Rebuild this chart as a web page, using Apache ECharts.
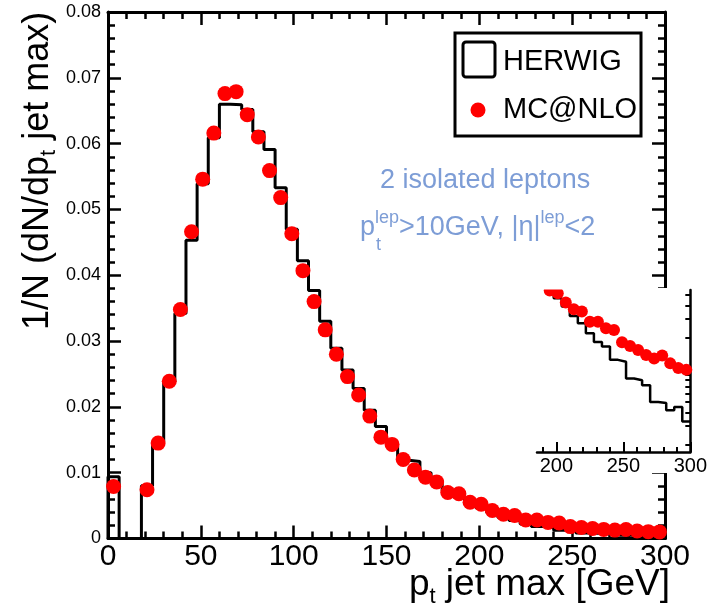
<!DOCTYPE html>
<html>
<head>
<meta charset="utf-8">
<script src="https://cdn.jsdelivr.net/npm/echarts@6/dist/echarts.min.js"></script>
<style>
  html, body { margin: 0; padding: 0; background: #fff; }
  #chart { width: 710px; height: 615px; }
</style>
</head>
<body>
<div id="chart"></div>
<script>
// Leading-jet pT spectrum, 6 GeV bins from 0 to 300 GeV
const binLow = [0, 6, 12, 18, 24, 30, 36, 42, 48, 54, 60, 66, 72, 78, 84, 90, 96, 102, 108, 114,
  120, 126, 132, 138, 144, 150, 156, 162, 168, 174, 180, 186, 192, 198, 204, 210, 216, 222, 228, 234,
  240, 246, 252, 258, 264, 270, 276, 282, 288, 294];
const binUpperEdge = 300;
const binCentre = [3, 9, 15, 21, 27, 33, 39, 45, 51, 57, 63, 69, 75, 81, 87, 93, 99, 105, 111, 117,
  123, 129, 135, 141, 147, 153, 159, 165, 171, 177, 183, 189, 195, 201, 207, 213, 219, 225, 231, 237,
  243, 249, 255, 261, 267, 273, 279, 285, 291, 297];

// HERWIG histogram (1/N dN/dpT per bin)
const herwig = [0.0094, 0, 0, 0.0080, 0.0147, 0.0238, 0.0342, 0.0453, 0.0539, 0.0609,
  0.0660, 0.0659, 0.0652, 0.0618, 0.0591, 0.0533, 0.0470, 0.0422, 0.0377, 0.0330,
  0.0289, 0.0256, 0.0228, 0.0195, 0.0170, 0.0140, 0.0119, 0.0117, 0.0100, 0.0088,
  0.0073, 0.0063, 0.0055, 0.00467, 0.00390, 0.00319, 0.00273, 0.00220, 0.00182, 0.00165,
  0.00124, 0.00119, 0.00083, 0.00080, 0.00072, 0.00050, 0.00049, 0.00042, 0.00045, 0.00033];

// MC@NLO points at bin centres (no entries in the two empty bins)
const mcnlo = [0.0079, null, null, 0.0074, 0.0145, 0.0239, 0.0348, 0.0466, 0.0546, 0.0616,
  0.0676, 0.0679, 0.0644, 0.0610, 0.0559, 0.0518, 0.0463, 0.0407, 0.0360, 0.0317,
  0.0280, 0.0246, 0.0218, 0.0186, 0.0154, 0.0143, 0.0120, 0.0104, 0.0093, 0.0086,
  0.0070, 0.0068, 0.0055, 0.0052, 0.00425, 0.00369, 0.00350, 0.00282, 0.00282, 0.00245,
  0.00236, 0.00181, 0.00167, 0.00153, 0.00138, 0.00128, 0.00136, 0.00115, 0.00104, 0.00100];

// axis ticks
const mainXTicks = { min: 0, max: 300, step: 50 };
const mainYTicks = { min: 0, max: 0.08, step: 0.01 };
const insetXRange = [185.5, 300];
const insetXMajor = [200, 250, 300];
const insetXMinor = [190, 210, 220, 230, 240, 260, 270, 280, 290];
const insetYRange = [0.000171, 0.00557];
const insetYMajor = [0.001];
const insetYMinor = [0.0002, 0.0003, 0.0004, 0.0005, 0.0006, 0.0007, 0.0008, 0.0009,
  0.002, 0.003, 0.004, 0.005];

const FONT = 'Liberation Sans, Arial, Helvetica, sans-serif';
const BLACK = '#000000';
const RED = '#ff0000';
const NOTE = '#7d9dd6';

// step-line points: left edge of each bin, closed at the upper edge
function histogramPoints(fromIndex) {
  const pts = [];
  if (fromIndex === 0) pts.push([binLow[0], 0]);
  for (let i = fromIndex; i < binLow.length; i++) pts.push([binLow[i], herwig[i]]);
  pts.push([binUpperEdge, herwig[herwig.length - 1]]);
  return pts;
}
function markerPoints(minX) {
  const pts = [];
  for (let i = 0; i < binCentre.length; i++) {
    if (mcnlo[i] !== null && binCentre[i] >= minX) pts.push([binCentre[i], mcnlo[i]]);
  }
  return pts;
}
const insetStart = binLow.findIndex(v => v >= 180);

const axisLine = { show: true, onZero: false, lineStyle: { color: BLACK, width: 3 } };
const majorTick = { show: true, inside: true, length: 13, lineStyle: { color: BLACK, width: 2.5 } };
const minorTick = { show: true, splitNumber: 5, length: 7, lineStyle: { color: BLACK, width: 2.5 } };

const chart = echarts.init(document.getElementById('chart'), null, { renderer: 'canvas' });

const option = {
  animation: false,
  backgroundColor: '#ffffff',
  grid: [
    { left: 108, top: 12, right: 45, bottom: 76.5, containLabel: false },
    { left: 537, top: 290, width: 157, height: 162, containLabel: false, z: 20 }
  ],
  xAxis: [
    { type: 'value', gridIndex: 0, position: 'bottom', min: mainXTicks.min, max: mainXTicks.max,
      interval: mainXTicks.step, axisLine, axisTick: majorTick, minorTick, splitLine: { show: false },
      axisLabel: { color: BLACK, fontSize: 30, fontFamily: FONT, margin: 3 } },
    { type: 'value', gridIndex: 0, position: 'top', min: mainXTicks.min, max: mainXTicks.max,
      interval: mainXTicks.step, axisLine, axisTick: majorTick, minorTick, splitLine: { show: false },
      axisLabel: { show: false } },
    { type: 'value', gridIndex: 1, position: 'bottom', min: insetXRange[0], max: insetXRange[1], z: 20,
      axisLine: { show: true, onZero: false, lineStyle: { color: BLACK, width: 2.5 } },
      axisTick: { show: true, inside: true, length: 10, customValues: insetXMajor, lineStyle: { color: BLACK, width: 2 } },
      splitLine: { show: false },
      axisLabel: { show: true, customValues: insetXMajor, color: BLACK, fontSize: 20, fontFamily: FONT, margin: 4 } },
    { type: 'value', gridIndex: 1, position: 'bottom', min: insetXRange[0], max: insetXRange[1], z: 20,
      axisLine: { show: false },
      axisTick: { show: true, inside: true, length: 5, customValues: insetXMinor, lineStyle: { color: BLACK, width: 2 } },
      splitLine: { show: false }, axisLabel: { show: false } }
  ],
  yAxis: [
    { type: 'value', gridIndex: 0, position: 'left', min: mainYTicks.min, max: mainYTicks.max,
      interval: mainYTicks.step, axisLine, axisTick: majorTick, minorTick, splitLine: { show: false },
      axisLabel: { color: BLACK, fontSize: 18, fontFamily: FONT, margin: 7 } },
    { type: 'value', gridIndex: 0, position: 'right', min: mainYTicks.min, max: mainYTicks.max,
      interval: mainYTicks.step, axisLine, axisTick: majorTick, minorTick, splitLine: { show: false },
      axisLabel: { show: false } },
    { type: 'log', gridIndex: 1, position: 'right', min: insetYRange[0], max: insetYRange[1], z: 20,
      axisLine: { show: true, onZero: false, lineStyle: { color: BLACK, width: 2.5 } },
      axisTick: { show: true, inside: true, length: 10, customValues: insetYMajor, lineStyle: { color: BLACK, width: 2 } },
      minorTick: { show: false }, splitLine: { show: false }, axisLabel: { show: false } },
    { type: 'log', gridIndex: 1, position: 'right', min: insetYRange[0], max: insetYRange[1], z: 20,
      axisLine: { show: false },
      axisTick: { show: true, inside: true, length: 5, customValues: insetYMinor, lineStyle: { color: BLACK, width: 2 } },
      minorTick: { show: false }, splitLine: { show: false }, axisLabel: { show: false } }
  ],
  series: [
    { name: 'HERWIG', type: 'line', xAxisIndex: 0, yAxisIndex: 0, step: 'end', showSymbol: false,
      data: histogramPoints(0), lineStyle: { color: BLACK, width: 3 }, z: 2, silent: true },
    { name: 'MC@NLO', type: 'scatter', xAxisIndex: 0, yAxisIndex: 0, symbol: 'circle', symbolSize: 15,
      data: markerPoints(0), itemStyle: { color: RED, opacity: 1 }, z: 3, silent: true },
    { name: 'HERWIG log', type: 'line', xAxisIndex: 2, yAxisIndex: 2, step: 'end', showSymbol: false, clip: true,
      data: histogramPoints(insetStart), lineStyle: { color: BLACK, width: 2.5 }, z: 21, silent: true },
    { name: 'MC@NLO log', type: 'scatter', xAxisIndex: 2, yAxisIndex: 2, symbol: 'circle', symbolSize: 12, clip: true,
      data: markerPoints(insetXRange[0]), itemStyle: { color: RED, opacity: 1 }, z: 22, silent: true }
  ],
  graphic: [
    // white pad behind the log-scale inset
    { type: 'rect', shape: { x: 537, y: 288, width: 173, height: 185 }, style: { fill: '#ffffff' }, z: 10, silent: true },
    // trims markers poking above the inset frame
    { type: 'rect', shape: { x: 537, y: 278, width: 115, height: 11.5 }, style: { fill: '#ffffff' }, z: 25, silent: true },
    // legend box
    { type: 'rect', shape: { x: 455, y: 33, width: 186, height: 103 }, style: { fill: '#ffffff', stroke: BLACK, lineWidth: 3 }, z: 30 },
    { type: 'rect', shape: { x: 463, y: 42, width: 32, height: 35, r: 3 }, style: { fill: 'none', stroke: BLACK, lineWidth: 3 }, z: 31 },
    { type: 'text', x: 503, y: 62, style: { text: 'HERWIG', fill: BLACK, font: '29px ' + FONT, align: 'left', verticalAlign: 'middle' }, z: 31 },
    { type: 'circle', shape: { cx: 478, cy: 110, r: 7.5 }, style: { fill: RED }, z: 31 },
    { type: 'text', x: 503, y: 110, style: { text: 'MC@NLO', fill: BLACK, font: '29px ' + FONT, align: 'left', verticalAlign: 'middle' }, z: 31 },
    // selection note
    { type: 'text', x: 380, y: 181, style: { text: '2 isolated leptons', fill: NOTE, font: '27px ' + FONT, align: 'left', verticalAlign: 'middle' }, z: 31 },
    { type: 'text', x: 360, y: 228, z: 31, style: {
        text: '{b|p}{u|lep}{b|>10GeV, |η|}{u|lep}{b|<2}', fill: NOTE, font: '27px ' + FONT,
        align: 'left', verticalAlign: 'middle',
        rich: { b: { fill: NOTE, fontSize: 27, fontFamily: FONT },
                u: { fill: NOTE, fontSize: 18, fontFamily: FONT, padding: [0, 0, 20, 0] } } } },
    { type: 'text', x: 376, y: 245, z: 31, style: { text: 't', fill: NOTE, font: '18px ' + FONT, align: 'left', verticalAlign: 'middle' } },
    // axis titles
    { type: 'text', x: 38, y: 330, rotation: Math.PI / 2, z: 31, style: {
        text: '{a|1/N (dN/dp}{s|t}{a| jet max)}', fill: BLACK, font: '36px ' + FONT,
        align: 'left', verticalAlign: 'middle',
        rich: { a: { fill: BLACK, fontSize: 36, fontFamily: FONT },
                s: { fill: BLACK, fontSize: 22, fontFamily: FONT, padding: [22, 0, 0, 0] } } } },
    { type: 'text', x: 670, y: 585, z: 31, style: {
        text: '{a|p}{s|t}{a| jet max [GeV]}', fill: BLACK, font: '37px ' + FONT,
        align: 'right', verticalAlign: 'middle',
        rich: { a: { fill: BLACK, fontSize: 37, fontFamily: FONT },
                s: { fill: BLACK, fontSize: 22, fontFamily: FONT, padding: [24, 0, 0, 0] } } } }
  ]
};

chart.setOption(option);
</script>
</body>
</html>
